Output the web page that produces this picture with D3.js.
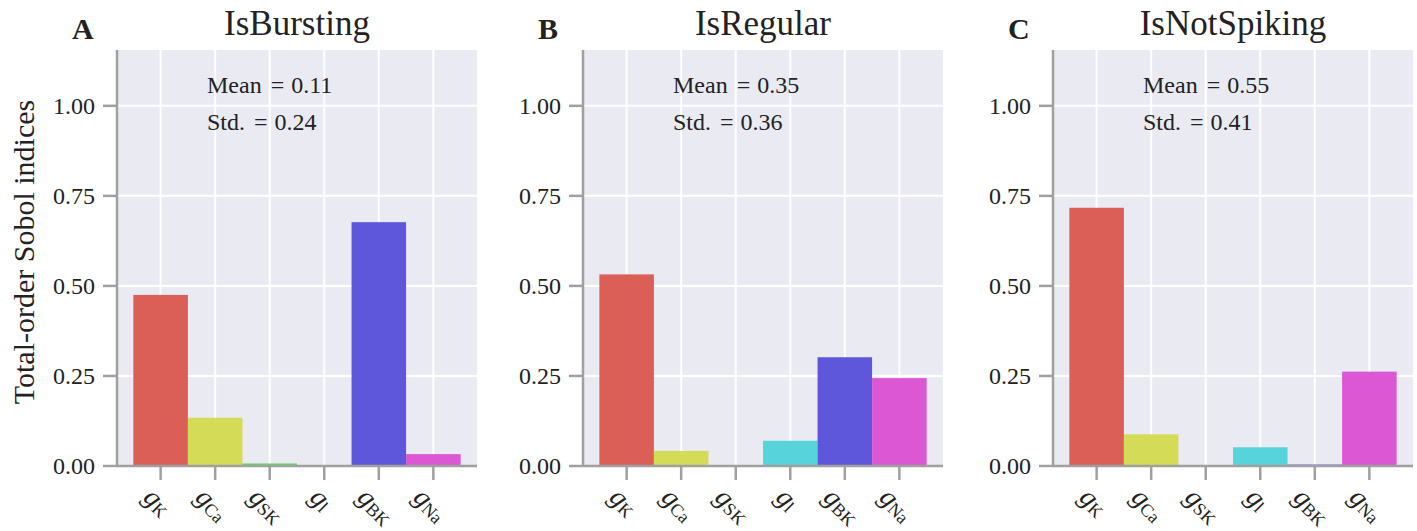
<!DOCTYPE html>
<html>
<head>
<meta charset="utf-8">
<script src="https://cdn.jsdelivr.net/npm/d3@7"></script>
<style>
  body { margin: 0; background: #ffffff; }
  svg { display: block; }
</style>
</head>
<body>
<div id="chart"></div>
<script>
// parameter names (subscripts of g)
const params = ["K", "Ca", "SK", "l", "BK", "Na"];
const titles = ["IsBursting", "IsRegular", "IsNotSpiking"];
const letters = ["A", "B", "C"];

// total-order Sobol indices
const burstingValues = [0.475, 0.134, 0.007, 0.0, 0.677, 0.033];
const regularValues = [0.532, 0.042, 0.002, 0.070, 0.302, 0.244];
const notSpikingValues = [0.717, 0.088, 0.0, 0.052, 0.004, 0.262];

const means = ["0.11", "0.35", "0.55"];
const stds = ["0.24", "0.36", "0.41"];

const yTicks = [0, 0.25, 0.5, 0.75, 1.0];
const colors = ["#db5f57", "#d3db57", "#57db5f", "#57d3db", "#5f57db", "#db57d3"];

const allValues = [burstingValues, regularValues, notSpikingValues];

const W = 1417, H = 531;
const panelLeft = [117, 583, 1053];
const panelTop = 50, panelW = 360, panelH = 416;
const serif = "Liberation Serif";

const svg = d3.select("#chart")
    .append("svg")
    .attr("width", W)
    .attr("height", H);

const x = d3.scaleLinear().domain([-0.8, 5.8]).range([0, panelW]);
const y = d3.scaleLinear().domain([0, 1.155]).range([panelH, 0]);

const spineColor = "#a0a0a0";

// y axis label (only on first panel)
svg.append("text")
    .attr("transform", `translate(34, ${panelTop + panelH / 2 - 6}) rotate(-90)`)
    .attr("text-anchor", "middle")
    .attr("font-family", serif)
    .style("font-size", "30px")
    .style("fill", "#222")
    .text("Total-order Sobol indices");

allValues.forEach((values, p) => {
  const g = svg.append("g")
      .attr("transform", `translate(${panelLeft[p]},${panelTop})`);

  // background
  g.append("rect")
      .attr("width", panelW)
      .attr("height", panelH)
      .attr("fill", "#eaeaf2");

  // grid
  g.selectAll(".hgrid")
      .data(yTicks.filter(d => d > 0))
      .enter().append("line")
      .attr("x1", 0).attr("x2", panelW)
      .attr("y1", d => y(d)).attr("y2", d => y(d))
      .attr("stroke", "#fff").attr("stroke-width", 2);

  g.selectAll(".vgrid")
      .data(d3.range(params.length))
      .enter().append("line")
      .attr("x1", d => x(d)).attr("x2", d => x(d))
      .attr("y1", 0).attr("y2", panelH)
      .attr("stroke", "#fff").attr("stroke-width", 2);

  // bars
  g.selectAll(".bar")
      .data(values)
      .enter().append("rect")
      .attr("x", (d, i) => x(i - 0.5))
      .attr("width", x(1) - x(0))
      .attr("y", d => y(d))
      .attr("height", d => y(0) - y(d))
      .attr("fill", (d, i) => colors[i]);

  // spines
  g.append("line")
      .attr("x1", 0).attr("x2", 0)
      .attr("y1", 0).attr("y2", panelH)
      .attr("stroke", spineColor).attr("stroke-width", 2.5);
  g.append("line")
      .attr("x1", 0).attr("x2", panelW)
      .attr("y1", panelH).attr("y2", panelH)
      .attr("stroke", spineColor).attr("stroke-width", 2.5);

  // y ticks
  const yt = g.selectAll(".ytick")
      .data(yTicks)
      .enter().append("g")
      .attr("transform", d => `translate(0,${y(d)})`);
  yt.append("line")
      .attr("x1", -14).attr("x2", 0)
      .attr("stroke", spineColor).attr("stroke-width", 2.5);
  yt.append("text")
      .attr("x", -22)
      .attr("dy", "0.33em")
      .attr("text-anchor", "end")
      .attr("font-family", serif)
      .style("font-size", "24px")
      .style("fill", "#222")
      .text(d => d.toFixed(2));

  // x ticks
  const xt = g.selectAll(".xtick")
      .data(params)
      .enter().append("g")
      .attr("transform", (d, i) => `translate(${x(i)},${panelH})`);
  xt.append("line")
      .attr("y1", 0).attr("y2", 14)
      .attr("stroke", spineColor).attr("stroke-width", 2.5);
  const lbl = xt.append("text")
      .attr("text-anchor", "middle")
      .attr("dominant-baseline", "central")
      .attr("font-family", serif)
      .style("fill", "#222");
  lbl.append("tspan")
      .style("font-style", "italic")
      .style("font-size", "28px")
      .text("g");
  lbl.append("tspan")
      .attr("dy", 6)
      .style("font-size", "18px")
      .text(d => d);
  lbl.each(function () {
    const len = this.getComputedTextLength();
    const off = 20 + (len + 16) / (2 * Math.SQRT2);
    d3.select(this).attr("transform", `translate(-2,${off}) rotate(45)`);
  });

  // title and panel letter
  g.append("text")
      .attr("x", panelW / 2)
      .attr("y", 35 - panelTop)
      .attr("text-anchor", "middle")
      .attr("font-family", serif)
      .style("font-size", "35px")
      .style("fill", "#222")
      .text(titles[p]);
  g.append("text")
      .attr("x", -45)
      .attr("y", 39 - panelTop)
      .attr("font-family", serif)
      .style("font-size", "30px")
      .style("font-weight", "bold")
      .style("fill", "#222")
      .text(letters[p]);

  // mean / std annotation
  const ann = [["Mean", means[p], 92.5], ["Std.", stds[p], 129.5]];
  ann.forEach(a => {
    const t = g.append("text")
        .attr("x", 0.25 * panelW)
        .attr("y", a[2] - panelTop)
        .attr("font-family", serif)
        .style("font-size", "24px")
        .style("fill", "#222");
    t.append("tspan").text(a[0]);
    t.append("tspan").attr("dx", 9).text("=");
    t.append("tspan").attr("dx", 7).text(a[1]);
  });
});
</script>
</body>
</html>
